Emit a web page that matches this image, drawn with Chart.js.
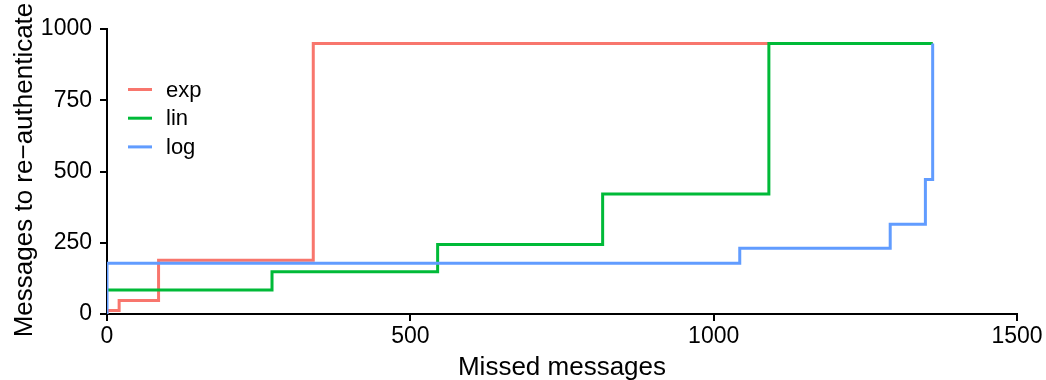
<!DOCTYPE html>
<html>
<head>
<meta charset="utf-8">
<script src="https://cdn.jsdelivr.net/npm/chart.js@4"></script>
<style>
  body { margin: 0; background: #fff; }
  #wrap { width: 1046px; height: 380px; }
</style>
</head>
<body>
<div id="wrap"><canvas id="myChart" width="1046" height="380"></canvas></div>
<script>
// data
const seriesNames = ["exp", "lin", "log"]
const seriesColors = ["#F8766D", "#00BA38", "#619CFF"]

const expX = [0, 0, 20, 85, 340, 1361]
const expY = [0, 12, 47, 189, 949, 949]
const linX = [0, 272, 545, 817, 1091, 1361]
const linY = [84, 148, 244, 421, 949, 949]
const logX = [0, 0, 1043, 1291, 1349, 1361]
const logY = [0, 178, 231, 315, 472, 949]

const xTicks = [0, 500, 1000, 1500]
const yTicks = [0, 250, 500, 750, 1000]

const font = "'Liberation Sans', Arial, Helvetica, sans-serif"

function pts(xs, ys) {
    return xs.map((x, i) => ({ x: x, y: ys[i] }))
}

const seriesData = [pts(expX, expY), pts(linX, linY), pts(logX, logY)]

// axis titles and legend drawn on top
const extras = {
    id: "extras",
    afterDraw(chart) {
        const c = chart.ctx
        const a = chart.chartArea
        c.save()
        c.fillStyle = "#000"
        c.font = "26px " + font
        c.textAlign = "center"
        c.textBaseline = "alphabetic"
        c.fillText("Missed messages", (a.left + a.right) / 2, 375)

        c.translate(32, 170)
        c.rotate(-Math.PI / 2)
        c.fillText("Messages to re\u2212authenticate", 0, 0)
        c.restore()

        // legend
        c.save()
        c.font = "22px " + font
        c.textAlign = "left"
        c.textBaseline = "middle"
        seriesNames.forEach((name, i) => {
            const y = 89.5 + i * 28.7
            c.strokeStyle = seriesColors[i]
            c.lineWidth = 3
            c.beginPath()
            c.moveTo(128, y)
            c.lineTo(152, y)
            c.stroke()
            c.fillStyle = "#000"
            c.fillText(name, 166, y + 1)
        })
        c.restore()
    }
}

const ctx = document.getElementById("myChart")

new Chart(ctx, {
    type: "line",
    data: {
        datasets: seriesNames.map((name, i) => ({
            label: name,
            data: seriesData[i],
            borderColor: seriesColors[i],
            backgroundColor: seriesColors[i],
            borderWidth: 3,
            pointRadius: 0,
            stepped: true,
            fill: false,
            order: 3 - i,
        })),
    },
    options: {
        responsive: false,
        animation: false,
        layout: { padding: { left: 0, top: 29, right: 29, bottom: 0 } },
        plugins: { legend: { display: false }, tooltip: { enabled: false } },
        scales: {
            x: {
                type: "linear",
                min: 0,
                max: 1500,
                afterBuildTicks: (s) => { s.ticks = xTicks.map(v => ({ value: v })) },
                afterFit: (s) => { s.height = 66 },
                grid: { drawOnChartArea: false, drawTicks: true, tickLength: 7, color: "#000", lineWidth: 2 },
                border: { display: true, color: "#000", width: 2 },
                ticks: { color: "#000", font: { family: font, size: 23 }, padding: 2, maxRotation: 0,
                         callback: (v) => String(v) },
            },
            y: {
                type: "linear",
                min: 0,
                max: 1000,
                afterBuildTicks: (s) => { s.ticks = yTicks.map(v => ({ value: v })) },
                afterFit: (s) => { s.width = 107 },
                grid: { drawOnChartArea: false, drawTicks: true, tickLength: 7, color: "#000", lineWidth: 2 },
                border: { display: true, color: "#000", width: 2 },
                ticks: { color: "#000", font: { family: font, size: 23 }, padding: 8,
                         callback: (v) => String(v) },
            },
        },
    },
    plugins: [extras],
})
</script>
</body>
</html>
